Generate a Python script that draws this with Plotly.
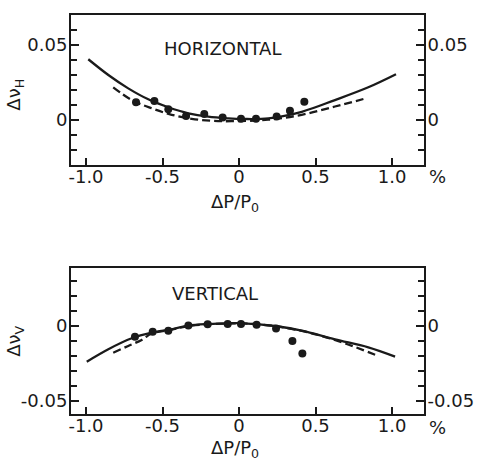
import plotly.graph_objects as go

# ---- data ----
# Horizontal panel
h_pts_x = [-0.673, -0.553, -0.462, -0.346, -0.227, -0.107, 0.013, 0.111, 0.246, 0.333, 0.427]
h_pts_y = [0.0118, 0.0127, 0.0071, 0.0027, 0.0040, 0.0016, 0.0009, 0.0009, 0.0024, 0.0062, 0.0122]
h_solid_x = [-0.985, -0.854, -0.724, -0.593, -0.462, -0.331, -0.201, -0.070, 0.028, 0.192, 0.410, 0.627, 0.845, 1.026]
h_solid_y = [0.0405, 0.0300, 0.0211, 0.0138, 0.0085, 0.0045, 0.0022, 0.0011, 0.0007, 0.0011, 0.0055, 0.0133, 0.0218, 0.0305]
h_dash_x = [-0.822, -0.701, -0.571, -0.440, -0.309, -0.178, -0.048, 0.190, 0.410, 0.627, 0.813]
h_dash_y = [0.0218, 0.0133, 0.0078, 0.0035, 0.0008, -0.0005, -0.0008, 0.0002, 0.0035, 0.0090, 0.0140]

# Vertical panel
v_pts_x = [-0.680, -0.564, -0.462, -0.331, -0.205, -0.074, 0.013, 0.115, 0.242, 0.349, 0.414]
v_pts_y = [-0.0071, -0.0038, -0.0031, 0.0004, 0.0011, 0.0013, 0.0013, 0.0009, -0.0016, -0.0100, -0.0184]
v_solid_x = [-0.995, -0.854, -0.701, -0.571, -0.440, -0.331, -0.200, -0.070, 0.028, 0.235, 0.410, 0.627, 0.845, 1.020]
v_solid_y = [-0.0238, -0.0155, -0.0082, -0.0045, -0.0022, 0.0002, 0.0013, 0.0018, 0.0018, 0.0000, -0.0031, -0.0089, -0.0142, -0.0204]
v_dash_x = [-0.822, -0.724, -0.636, -0.571, -0.440, -0.331, -0.200, -0.070, 0.028, 0.235, 0.410, 0.518, 0.693, 0.910]
v_dash_y = [-0.0178, -0.0133, -0.0093, -0.0050, -0.0024, 0.0000, 0.0012, 0.0017, 0.0017, 0.0000, -0.0033, -0.0060, -0.0116, -0.0200]

x_tickvals = [-1.0, -0.5, 0, 0.5, 1.0]
x_ticktext = ["-1.0", "-0.5", "0", "0.5", "1.0"]
h_tickvals = [0, 0.05]
h_ticktext = ["0", "0.05"]
v_tickvals = [-0.05, 0]
v_ticktext = ["-0.05", "0"]

INK = "#1a1a1a"
FONT = dict(family="DejaVu Sans", size=18, color=INK)

fig = go.Figure()

def add_panel(xa, ya, ya_r, sx, sy, dx, dy, px, py):
    fig.add_trace(go.Scatter(x=sx, y=sy, mode="lines", line=dict(color=INK, width=2.3, shape="spline"),
                             xaxis=xa, yaxis=ya, showlegend=False, hoverinfo="skip"))
    fig.add_trace(go.Scatter(x=dx, y=dy, mode="lines", line=dict(color=INK, width=2.3, shape="spline", dash="8px,4px"),
                             xaxis=xa, yaxis=ya, showlegend=False, hoverinfo="skip"))
    fig.add_trace(go.Scatter(x=px, y=py, mode="markers", marker=dict(color=INK, size=8),
                             xaxis=xa, yaxis=ya, showlegend=False, hoverinfo="skip"))
    # invisible copy on the right-hand axis so that it gets drawn
    fig.add_trace(go.Scatter(x=px, y=py, mode="markers", marker=dict(color="rgba(0,0,0,0)", size=1),
                             xaxis=xa, yaxis=ya_r, showlegend=False, hoverinfo="skip"))

add_panel("x", "y", "y3", h_solid_x, h_solid_y, h_dash_x, h_dash_y, h_pts_x, h_pts_y)
add_panel("x2", "y2", "y4", v_solid_x, v_solid_y, v_dash_x, v_dash_y, v_pts_x, v_pts_y)

XR = [-1.098, 1.209]
TOP_DOM = [0.624, 1.0]
BOT_DOM = [0.0, 0.366]
HR = [-0.03, 0.07]
VR = [-0.0587, 0.0387]

def xaxis(anchor):
    return dict(domain=[0, 1], anchor=anchor, range=XR, tickvals=x_tickvals, ticktext=x_ticktext,
                ticks="inside", ticklen=7, tickwidth=2, tickcolor=INK, showline=True, mirror=True,
                linecolor=INK, linewidth=2, showgrid=False, zeroline=False, tickfont=FONT,
                ticklabelstandoff=-6, automargin=False)

def yaxis(dom, rng, tv, tt, side="left", overlay=None, anchor=None):
    d = dict(domain=dom, range=rng, tickvals=tv, ticktext=tt, ticks="inside", ticklen=8, tickwidth=2,
             tickcolor=INK, showline=True, linecolor=INK, linewidth=2, showgrid=False, zeroline=False,
             tickfont=FONT, side=side, ticklabelstandoff=-2, automargin=False,
             minor=dict(dtick=0.01, tick0=0, ticks="inside", ticklen=6, tickwidth=2, tickcolor=INK, showgrid=False))
    if overlay:
        d["overlaying"] = overlay
    if anchor:
        d["anchor"] = anchor
    return d

fig.update_layout(
    width=480, height=462,
    margin=dict(l=71, r=56, t=15, b=48),
    paper_bgcolor="white", plot_bgcolor="white",
    font=FONT,
    xaxis=xaxis("y"),
    xaxis2=xaxis("y2"),
    yaxis=yaxis(TOP_DOM, HR, h_tickvals, h_ticktext, anchor="x"),
    yaxis2=yaxis(BOT_DOM, VR, v_tickvals, v_ticktext, anchor="x2"),
    yaxis3=yaxis(TOP_DOM, HR, h_tickvals, h_ticktext, side="right", overlay="y", anchor="x"),
    yaxis4=yaxis(BOT_DOM, VR, v_tickvals, v_ticktext, side="right", overlay="y2", anchor="x2"),
)

ann = [
    dict(text="HORIZONTAL", x=-0.11, y=0.048, xref="x", yref="y"),
    dict(text="VERTICAL", x=-0.16, y=0.022, xref="x2", yref="y2"),
    dict(text="ΔP/P<sub>0</sub>", x=0.465, y=0.530, xref="paper", yref="paper"),
    dict(text="ΔP/P<sub>0</sub>", x=0.465, y=-0.088, xref="paper", yref="paper"),
    dict(text="%", x=1.037, y=0.594, xref="paper", yref="paper"),
    dict(text="%", x=1.037, y=-0.035, xref="paper", yref="paper"),
    dict(text="Δν<sub>H</sub>", x=-0.159, y=0.80, xref="paper", yref="paper", textangle=-90),
    dict(text="Δν<sub>V</sub>", x=-0.159, y=0.183, xref="paper", yref="paper", textangle=-90),
]
for a in ann:
    a.update(showarrow=False, font=FONT, xanchor="center", yanchor="middle")
fig.update_layout(annotations=ann)

fig.write_html("out.html")
